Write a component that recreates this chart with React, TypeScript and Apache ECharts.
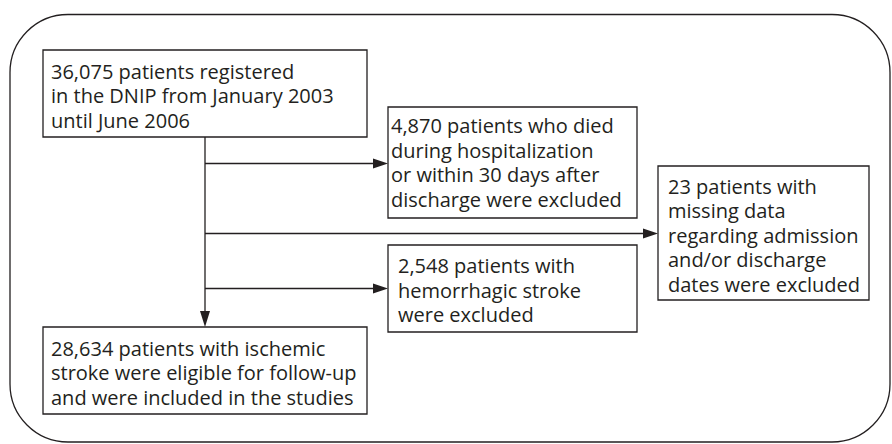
import React, { useEffect, useRef } from "react";
import * as echarts from "echarts";

const boxTexts: string[][] = [
  ["36,075 patients registered", "in the DNIP from January 2003", "until June 2006"],
  ["4,870 patients who died", "during hospitalization", "or within 30 days after", "discharge were excluded"],
  ["23 patients with", "missing data", "regarding admission", "and/or discharge", "dates were excluded"],
  ["2,548 patients with", "hemorrhagic stroke", "were excluded"],
  ["28,634 patients with ischemic", "stroke were eligible for follow-up", "and were included in the studies"],
];

// layout: [x, y, w, h, textX, firstLineCenterY, lineHeight]
const boxLayout: number[][] = [
  [43, 50, 324, 87, 51, 71, 24.6],
  [388, 107, 249, 111, 391, 125.5, 24.6],
  [658, 166, 211, 134, 668, 186, 24.6],
  [388, 245, 249, 87, 398, 265.5, 24.6],
  [43, 327, 324, 87, 51, 348, 24.6],
];

const FONT = "'Open Sans', sans-serif";
const INK = "#231f20";

export default function App() {
  const ref = useRef<HTMLDivElement>(null);
  useEffect(() => {
    if (!ref.current) return;
    const chart = echarts.init(ref.current, null, { renderer: "svg" });
    const els: any[] = [];
    els.push({
      type: "rect",
      shape: { x: 10, y: 14.5, width: 880, height: 427.5, r: 58 },
      style: { fill: "none", stroke: INK, lineWidth: 1.3 },
    });
    boxLayout.forEach((b, i) => {
      els.push({
        type: "rect",
        shape: { x: b[0], y: b[1], width: b[2], height: b[3] },
        style: { fill: "#fff", stroke: INK, lineWidth: 1.3 },
      });
      els.push({
        type: "text",
        x: b[4],
        y: b[5] - b[6] / 2,
        style: {
          text: boxTexts[i].join("\n"),
          fill: INK,
          font: `20px ${FONT}`,
          lineHeight: b[6],
          verticalAlign: "top",
          align: "left",
        },
      });
    });
    const vx = 205;
    els.push({ type: "line", shape: { x1: vx, y1: 137, x2: vx, y2: 312 }, style: { stroke: INK, lineWidth: 1.3 } });
    els.push({ type: "polygon", shape: { points: [[vx - 5, 311], [vx + 5, 311], [vx, 327]] }, style: { fill: INK } });
    const arrows = [[163.5, 388], [233.5, 658], [288.5, 388]];
    arrows.forEach((a) => {
      els.push({ type: "line", shape: { x1: vx, y1: a[0], x2: a[1] - 14, y2: a[0] }, style: { stroke: INK, lineWidth: 1.3 } });
      els.push({ type: "polygon", shape: { points: [[a[1] - 15, a[0] - 5], [a[1] - 15, a[0] + 5], [a[1], a[0]]] }, style: { fill: INK } });
    });
    chart.setOption({ animation: false, backgroundColor: "#fff", graphic: { elements: els } });
    return () => chart.dispose();
  }, []);
  return <div ref={ref} style={{ width: 892, height: 444, position: "absolute", left: 0, top: 0 }} />;
}
